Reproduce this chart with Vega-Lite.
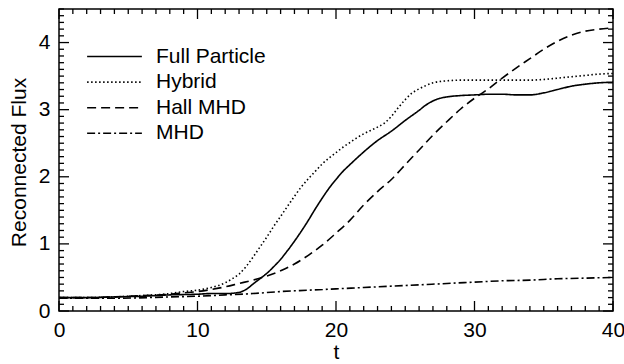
{
  "$schema": "https://vega.github.io/schema/vega-lite/v6.json",
  "width": 554,
  "height": 302,
  "autosize": {"type": "none"},
  "padding": {"left": 59, "top": 9, "right": 11, "bottom": 53},
  "background": "white",
  "config": {
    "view": {"stroke": "black", "strokeWidth": 1.5, "fill": null},
    "font": "Liberation Sans",
    "axis": {
      "grid": false,
      "domain": false,
      "labelColor": "black",
      "labelFont": "Liberation Sans",
      "labelFontSize": 21,
      "labelOverlap": false,
      "labelFlush": false,
      "titleColor": "black",
      "titleFont": "Liberation Sans",
      "titleFontSize": 21,
      "titleFontWeight": "normal"
    }
  },
  "datasets": {
    "xt": [
      {"v": 0, "major": true}, {"v": 1, "major": false}, {"v": 2, "major": false}, {"v": 3, "major": false}, {"v": 4, "major": false},
      {"v": 5, "major": false}, {"v": 6, "major": false}, {"v": 7, "major": false}, {"v": 8, "major": false}, {"v": 9, "major": false},
      {"v": 10, "major": true}, {"v": 11, "major": false}, {"v": 12, "major": false}, {"v": 13, "major": false}, {"v": 14, "major": false},
      {"v": 15, "major": false}, {"v": 16, "major": false}, {"v": 17, "major": false}, {"v": 18, "major": false}, {"v": 19, "major": false},
      {"v": 20, "major": true}, {"v": 21, "major": false}, {"v": 22, "major": false}, {"v": 23, "major": false}, {"v": 24, "major": false},
      {"v": 25, "major": false}, {"v": 26, "major": false}, {"v": 27, "major": false}, {"v": 28, "major": false}, {"v": 29, "major": false},
      {"v": 30, "major": true}, {"v": 31, "major": false}, {"v": 32, "major": false}, {"v": 33, "major": false}, {"v": 34, "major": false},
      {"v": 35, "major": false}, {"v": 36, "major": false}, {"v": 37, "major": false}, {"v": 38, "major": false}, {"v": 39, "major": false},
      {"v": 40, "major": true}
    ],
    "yt": [
      {"v": 0, "major": true}, {"v": 0.1, "major": false}, {"v": 0.2, "major": false}, {"v": 0.3, "major": false}, {"v": 0.4, "major": false},
      {"v": 0.5, "major": false}, {"v": 0.6, "major": false}, {"v": 0.7, "major": false}, {"v": 0.8, "major": false}, {"v": 0.9, "major": false},
      {"v": 1, "major": true}, {"v": 1.1, "major": false}, {"v": 1.2, "major": false}, {"v": 1.3, "major": false}, {"v": 1.4, "major": false},
      {"v": 1.5, "major": false}, {"v": 1.6, "major": false}, {"v": 1.7, "major": false}, {"v": 1.8, "major": false}, {"v": 1.9, "major": false},
      {"v": 2, "major": true}, {"v": 2.1, "major": false}, {"v": 2.2, "major": false}, {"v": 2.3, "major": false}, {"v": 2.4, "major": false},
      {"v": 2.5, "major": false}, {"v": 2.6, "major": false}, {"v": 2.7, "major": false}, {"v": 2.8, "major": false}, {"v": 2.9, "major": false},
      {"v": 3, "major": true}, {"v": 3.1, "major": false}, {"v": 3.2, "major": false}, {"v": 3.3, "major": false}, {"v": 3.4, "major": false},
      {"v": 3.5, "major": false}, {"v": 3.6, "major": false}, {"v": 3.7, "major": false}, {"v": 3.8, "major": false}, {"v": 3.9, "major": false},
      {"v": 4, "major": true}, {"v": 4.1, "major": false}, {"v": 4.2, "major": false}, {"v": 4.3, "major": false}, {"v": 4.4, "major": false},
      {"v": 4.5, "major": false}
    ],
    "series": [
      {"model": "Full Particle", "t": 0, "flux": 0.2},
      {"model": "Full Particle", "t": 2, "flux": 0.2},
      {"model": "Full Particle", "t": 4, "flux": 0.21},
      {"model": "Full Particle", "t": 6, "flux": 0.22},
      {"model": "Full Particle", "t": 8, "flux": 0.24},
      {"model": "Full Particle", "t": 10, "flux": 0.25},
      {"model": "Full Particle", "t": 11, "flux": 0.26},
      {"model": "Full Particle", "t": 12, "flux": 0.26},
      {"model": "Full Particle", "t": 12.8, "flux": 0.27},
      {"model": "Full Particle", "t": 13.5, "flux": 0.32},
      {"model": "Full Particle", "t": 14, "flux": 0.4},
      {"model": "Full Particle", "t": 14.5, "flux": 0.48},
      {"model": "Full Particle", "t": 15, "flux": 0.56},
      {"model": "Full Particle", "t": 15.5, "flux": 0.66},
      {"model": "Full Particle", "t": 16, "flux": 0.77},
      {"model": "Full Particle", "t": 16.5, "flux": 0.9},
      {"model": "Full Particle", "t": 17, "flux": 1.04},
      {"model": "Full Particle", "t": 17.5, "flux": 1.19},
      {"model": "Full Particle", "t": 18, "flux": 1.35},
      {"model": "Full Particle", "t": 18.5, "flux": 1.52},
      {"model": "Full Particle", "t": 19, "flux": 1.68},
      {"model": "Full Particle", "t": 19.5, "flux": 1.83},
      {"model": "Full Particle", "t": 20, "flux": 1.96},
      {"model": "Full Particle", "t": 20.5, "flux": 2.08},
      {"model": "Full Particle", "t": 21, "flux": 2.18},
      {"model": "Full Particle", "t": 22, "flux": 2.37},
      {"model": "Full Particle", "t": 23, "flux": 2.54},
      {"model": "Full Particle", "t": 24, "flux": 2.68},
      {"model": "Full Particle", "t": 25, "flux": 2.84},
      {"model": "Full Particle", "t": 26, "flux": 2.99},
      {"model": "Full Particle", "t": 26.5, "flux": 3.07},
      {"model": "Full Particle", "t": 27, "flux": 3.13},
      {"model": "Full Particle", "t": 27.5, "flux": 3.17},
      {"model": "Full Particle", "t": 28, "flux": 3.19},
      {"model": "Full Particle", "t": 29, "flux": 3.21},
      {"model": "Full Particle", "t": 30, "flux": 3.22},
      {"model": "Full Particle", "t": 31, "flux": 3.23},
      {"model": "Full Particle", "t": 32, "flux": 3.23},
      {"model": "Full Particle", "t": 33, "flux": 3.22},
      {"model": "Full Particle", "t": 34, "flux": 3.22},
      {"model": "Full Particle", "t": 35, "flux": 3.25},
      {"model": "Full Particle", "t": 36, "flux": 3.3},
      {"model": "Full Particle", "t": 37, "flux": 3.35},
      {"model": "Full Particle", "t": 38, "flux": 3.38},
      {"model": "Full Particle", "t": 39, "flux": 3.4},
      {"model": "Full Particle", "t": 40, "flux": 3.41},
      {"model": "Hybrid", "t": 0, "flux": 0.2},
      {"model": "Hybrid", "t": 2, "flux": 0.2},
      {"model": "Hybrid", "t": 4, "flux": 0.21},
      {"model": "Hybrid", "t": 6, "flux": 0.23},
      {"model": "Hybrid", "t": 8, "flux": 0.26},
      {"model": "Hybrid", "t": 9, "flux": 0.29},
      {"model": "Hybrid", "t": 10, "flux": 0.31},
      {"model": "Hybrid", "t": 11, "flux": 0.35},
      {"model": "Hybrid", "t": 12, "flux": 0.42},
      {"model": "Hybrid", "t": 12.5, "flux": 0.48},
      {"model": "Hybrid", "t": 13, "flux": 0.55},
      {"model": "Hybrid", "t": 13.5, "flux": 0.66},
      {"model": "Hybrid", "t": 14, "flux": 0.8},
      {"model": "Hybrid", "t": 14.5, "flux": 0.95},
      {"model": "Hybrid", "t": 15, "flux": 1.1},
      {"model": "Hybrid", "t": 15.5, "flux": 1.26},
      {"model": "Hybrid", "t": 16, "flux": 1.41},
      {"model": "Hybrid", "t": 16.5, "flux": 1.56},
      {"model": "Hybrid", "t": 17, "flux": 1.71},
      {"model": "Hybrid", "t": 17.5, "flux": 1.85},
      {"model": "Hybrid", "t": 18, "flux": 1.97},
      {"model": "Hybrid", "t": 18.5, "flux": 2.08},
      {"model": "Hybrid", "t": 19, "flux": 2.19},
      {"model": "Hybrid", "t": 19.5, "flux": 2.28},
      {"model": "Hybrid", "t": 20, "flux": 2.36},
      {"model": "Hybrid", "t": 20.5, "flux": 2.44},
      {"model": "Hybrid", "t": 21, "flux": 2.51},
      {"model": "Hybrid", "t": 21.5, "flux": 2.58},
      {"model": "Hybrid", "t": 22, "flux": 2.64},
      {"model": "Hybrid", "t": 22.5, "flux": 2.69},
      {"model": "Hybrid", "t": 23, "flux": 2.74},
      {"model": "Hybrid", "t": 23.5, "flux": 2.8},
      {"model": "Hybrid", "t": 24, "flux": 2.9},
      {"model": "Hybrid", "t": 24.5, "flux": 3.03},
      {"model": "Hybrid", "t": 25, "flux": 3.15},
      {"model": "Hybrid", "t": 25.5, "flux": 3.25},
      {"model": "Hybrid", "t": 26, "flux": 3.31},
      {"model": "Hybrid", "t": 26.5, "flux": 3.36},
      {"model": "Hybrid", "t": 27, "flux": 3.4},
      {"model": "Hybrid", "t": 28, "flux": 3.43},
      {"model": "Hybrid", "t": 29, "flux": 3.44},
      {"model": "Hybrid", "t": 30, "flux": 3.44},
      {"model": "Hybrid", "t": 32, "flux": 3.44},
      {"model": "Hybrid", "t": 34, "flux": 3.44},
      {"model": "Hybrid", "t": 35, "flux": 3.45},
      {"model": "Hybrid", "t": 36, "flux": 3.47},
      {"model": "Hybrid", "t": 37, "flux": 3.49},
      {"model": "Hybrid", "t": 38, "flux": 3.51},
      {"model": "Hybrid", "t": 39, "flux": 3.53},
      {"model": "Hybrid", "t": 40, "flux": 3.54},
      {"model": "Hall MHD", "t": 0, "flux": 0.2},
      {"model": "Hall MHD", "t": 2, "flux": 0.2},
      {"model": "Hall MHD", "t": 4, "flux": 0.21},
      {"model": "Hall MHD", "t": 6, "flux": 0.23},
      {"model": "Hall MHD", "t": 8, "flux": 0.25},
      {"model": "Hall MHD", "t": 9, "flux": 0.27},
      {"model": "Hall MHD", "t": 10, "flux": 0.29},
      {"model": "Hall MHD", "t": 11, "flux": 0.32},
      {"model": "Hall MHD", "t": 12, "flux": 0.36},
      {"model": "Hall MHD", "t": 13, "flux": 0.41},
      {"model": "Hall MHD", "t": 14, "flux": 0.46},
      {"model": "Hall MHD", "t": 15, "flux": 0.52},
      {"model": "Hall MHD", "t": 16, "flux": 0.6},
      {"model": "Hall MHD", "t": 17, "flux": 0.7},
      {"model": "Hall MHD", "t": 18, "flux": 0.83},
      {"model": "Hall MHD", "t": 19, "flux": 0.98},
      {"model": "Hall MHD", "t": 20, "flux": 1.16},
      {"model": "Hall MHD", "t": 21, "flux": 1.35},
      {"model": "Hall MHD", "t": 22, "flux": 1.58},
      {"model": "Hall MHD", "t": 23, "flux": 1.78},
      {"model": "Hall MHD", "t": 24, "flux": 1.96},
      {"model": "Hall MHD", "t": 25, "flux": 2.18},
      {"model": "Hall MHD", "t": 26, "flux": 2.4},
      {"model": "Hall MHD", "t": 27, "flux": 2.62},
      {"model": "Hall MHD", "t": 28, "flux": 2.82},
      {"model": "Hall MHD", "t": 29, "flux": 3.01},
      {"model": "Hall MHD", "t": 30, "flux": 3.17},
      {"model": "Hall MHD", "t": 31, "flux": 3.31},
      {"model": "Hall MHD", "t": 32, "flux": 3.47},
      {"model": "Hall MHD", "t": 33, "flux": 3.62},
      {"model": "Hall MHD", "t": 34, "flux": 3.76},
      {"model": "Hall MHD", "t": 35, "flux": 3.9},
      {"model": "Hall MHD", "t": 36, "flux": 4.02},
      {"model": "Hall MHD", "t": 37, "flux": 4.11},
      {"model": "Hall MHD", "t": 38, "flux": 4.17},
      {"model": "Hall MHD", "t": 39, "flux": 4.2},
      {"model": "Hall MHD", "t": 40, "flux": 4.22},
      {"model": "MHD", "t": 0, "flux": 0.19},
      {"model": "MHD", "t": 4, "flux": 0.19},
      {"model": "MHD", "t": 8, "flux": 0.21},
      {"model": "MHD", "t": 10, "flux": 0.22},
      {"model": "MHD", "t": 12, "flux": 0.24},
      {"model": "MHD", "t": 14, "flux": 0.26},
      {"model": "MHD", "t": 16, "flux": 0.29},
      {"model": "MHD", "t": 18, "flux": 0.31},
      {"model": "MHD", "t": 20, "flux": 0.33},
      {"model": "MHD", "t": 22, "flux": 0.35},
      {"model": "MHD", "t": 24, "flux": 0.37},
      {"model": "MHD", "t": 26, "flux": 0.39},
      {"model": "MHD", "t": 28, "flux": 0.41},
      {"model": "MHD", "t": 30, "flux": 0.43},
      {"model": "MHD", "t": 32, "flux": 0.45},
      {"model": "MHD", "t": 34, "flux": 0.46},
      {"model": "MHD", "t": 36, "flux": 0.48},
      {"model": "MHD", "t": 38, "flux": 0.49},
      {"model": "MHD", "t": 40, "flux": 0.5}
    ]
  },
  "layer": [
    {
      "data": {"name": "series"},
      "mark": {"type": "line", "interpolate": "monotone", "strokeWidth": 1.6, "color": "black", "clip": true},
      "encoding": {
        "x": {
          "field": "t", "type": "quantitative",
          "scale": {"domain": [0, 40], "nice": false},
          "axis": {
            "orient": "bottom",
            "offset": -10,
            "ticks": true,
            "tickOpacity": 0,
            "tickSize": 10,
            "values": [0, 10, 20, 30, 40],
            "format": "d",
            "labelPadding": 8,
            "title": "t",
            "titleY": 57,
            "titleBaseline": "alphabetic"
          }
        },
        "y": {
          "field": "flux", "type": "quantitative",
          "scale": {"domain": [0, 4.5], "nice": false},
          "axis": {
            "orient": "left",
            "offset": -10,
            "ticks": true,
            "tickOpacity": 0,
            "tickSize": 10,
            "values": [0, 1, 2, 3, 4],
            "format": "d",
            "labelPadding": 9,
            "title": "Reconnected Flux",
            "titleX": -44,
            "titleY": 153,
            "titleAngle": 270,
            "titleBaseline": "alphabetic",
            "titleAlign": "center"
          }
        },
        "strokeDash": {
          "field": "model", "type": "nominal",
          "scale": {
            "domain": ["Full Particle", "Hybrid", "Hall MHD", "MHD"],
            "range": [[1, 0], [1.5, 2.5], [9, 5], [8, 3, 2, 3]]
          },
          "legend": {
            "orient": "none",
            "legendX": 45,
            "legendY": 37,
            "title": null,
            "padding": 0,
            "symbolType": "M-10,0H10",
            "symbolSize": 30,
            "symbolStrokeWidth": 1.6,
            "symbolStrokeColor": "black",
            "symbolFillColor": "transparent",
            "labelFont": "Liberation Sans",
            "labelFontSize": 21,
            "labelColor": "black",
            "labelOffset": 31,
            "rowPadding": 3.6
          }
        }
      }
    },
    {
      "data": {"name": "xt"},
      "transform": [{"filter": "datum.major"}],
      "mark": {"type": "tick", "orient": "vertical", "size": 10, "thickness": 1.3, "color": "black", "opacity": 1, "yOffset": -5},
      "encoding": {
        "x": {"field": "v", "type": "quantitative", "axis": null},
        "y": {"datum": 0, "type": "quantitative", "axis": null}
      }
    },
    {
      "data": {"name": "xt"},
      "transform": [{"filter": "!datum.major"}],
      "mark": {"type": "tick", "orient": "vertical", "size": 5, "thickness": 1.3, "color": "black", "opacity": 1, "yOffset": -2.5},
      "encoding": {
        "x": {"field": "v", "type": "quantitative", "axis": null},
        "y": {"datum": 0, "type": "quantitative", "axis": null}
      }
    },
    {
      "data": {"name": "xt"},
      "transform": [{"filter": "datum.major"}],
      "mark": {"type": "tick", "orient": "vertical", "size": 10, "thickness": 1.3, "color": "black", "opacity": 1, "yOffset": 5},
      "encoding": {
        "x": {"field": "v", "type": "quantitative", "axis": null},
        "y": {"datum": 4.5, "type": "quantitative", "axis": null}
      }
    },
    {
      "data": {"name": "xt"},
      "transform": [{"filter": "!datum.major"}],
      "mark": {"type": "tick", "orient": "vertical", "size": 5, "thickness": 1.3, "color": "black", "opacity": 1, "yOffset": 2.5},
      "encoding": {
        "x": {"field": "v", "type": "quantitative", "axis": null},
        "y": {"datum": 4.5, "type": "quantitative", "axis": null}
      }
    },
    {
      "data": {"name": "yt"},
      "transform": [{"filter": "datum.major"}],
      "mark": {"type": "tick", "orient": "horizontal", "size": 10, "thickness": 1.3, "color": "black", "opacity": 1, "xOffset": 5},
      "encoding": {
        "y": {"field": "v", "type": "quantitative", "axis": null},
        "x": {"datum": 0, "type": "quantitative", "axis": null}
      }
    },
    {
      "data": {"name": "yt"},
      "transform": [{"filter": "!datum.major"}],
      "mark": {"type": "tick", "orient": "horizontal", "size": 5, "thickness": 1.3, "color": "black", "opacity": 1, "xOffset": 2.5},
      "encoding": {
        "y": {"field": "v", "type": "quantitative", "axis": null},
        "x": {"datum": 0, "type": "quantitative", "axis": null}
      }
    },
    {
      "data": {"name": "yt"},
      "transform": [{"filter": "datum.major"}],
      "mark": {"type": "tick", "orient": "horizontal", "size": 10, "thickness": 1.3, "color": "black", "opacity": 1, "xOffset": -5},
      "encoding": {
        "y": {"field": "v", "type": "quantitative", "axis": null},
        "x": {"datum": 40, "type": "quantitative", "axis": null}
      }
    },
    {
      "data": {"name": "yt"},
      "transform": [{"filter": "!datum.major"}],
      "mark": {"type": "tick", "orient": "horizontal", "size": 5, "thickness": 1.3, "color": "black", "opacity": 1, "xOffset": -2.5},
      "encoding": {
        "y": {"field": "v", "type": "quantitative", "axis": null},
        "x": {"datum": 40, "type": "quantitative", "axis": null}
      }
    }
  ],
  "resolve": {"axis": {"x": "independent", "y": "independent"}}
}
